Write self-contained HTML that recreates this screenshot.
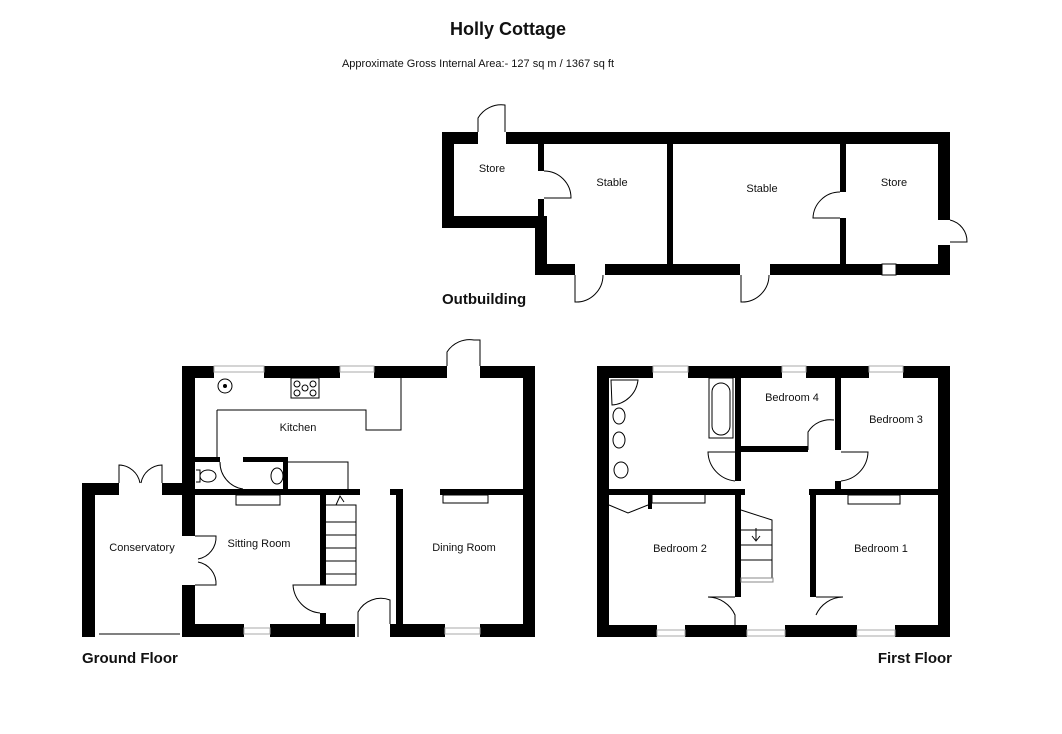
<!DOCTYPE html>
<html><head><meta charset="utf-8"><style>
html,body{margin:0;padding:0;background:#fff;}
svg{display:block;}
text{font-family:"Liberation Sans",Arial,sans-serif;fill:#111;}
</style></head><body>
<svg width="1062" height="734" viewBox="0 0 1062 734" xmlns="http://www.w3.org/2000/svg">
<rect width="1062" height="734" fill="#fff"/>
<text x="508" y="35" font-size="18" font-weight="bold" text-anchor="middle">Holly Cottage</text>
<text x="478" y="67" font-size="11" text-anchor="middle">Approximate Gross Internal Area:- 127 sq m / 1367 sq ft</text>

<!-- ===== OUTBUILDING ===== -->
<g fill="#000">
<rect x="442" y="132" width="36" height="12"/>
<rect x="506" y="132" width="444" height="12"/>
<rect x="442" y="132" width="12" height="96"/>
<rect x="442" y="216" width="102" height="12"/>
<rect x="535" y="216" width="12" height="59"/>
<rect x="535" y="264" width="40" height="11"/>
<rect x="605" y="264" width="135" height="11"/>
<rect x="770" y="264" width="180" height="11"/>
<rect x="938" y="132" width="12" height="88"/>
<rect x="938" y="245" width="12" height="30"/>
<rect x="538" y="144" width="6" height="27"/>
<rect x="538" y="199" width="6" height="20"/>
<rect x="667" y="144" width="6" height="120"/>
<rect x="840" y="144" width="6" height="48"/>
<rect x="840" y="218" width="6" height="46"/>
</g>
<g fill="none" stroke="#000" stroke-width="1">
<path d="M478 132 L478 118 A27 27 0 0 1 505 105 L505 132"/>
<path d="M544 171 A27 27 0 0 1 571 198 L544 198"/>
<path d="M575 275 L575 302 A27 27 0 0 0 603 275"/>
<path d="M741 275 L741 302 A27 27 0 0 0 769 275"/>
<path d="M840 192 A27 27 0 0 0 813 218 L840 218"/>
<path d="M950 220 A22 22 0 0 1 967 242 L950 242"/>
<rect x="882" y="264" width="14" height="11" fill="#fff"/>
</g>
<text x="492" y="172" font-size="11" text-anchor="middle">Store</text>
<text x="612" y="186" font-size="11" text-anchor="middle">Stable</text>
<text x="762" y="192" font-size="11" text-anchor="middle">Stable</text>
<text x="894" y="186" font-size="11" text-anchor="middle">Store</text>
<text x="442" y="304" font-size="15" font-weight="bold">Outbuilding</text>

<!-- ===== GROUND FLOOR ===== -->
<g fill="#000">
<rect x="182" y="366" width="32" height="12"/>
<rect x="264" y="366" width="76" height="12"/>
<rect x="374" y="366" width="73" height="12"/>
<rect x="480" y="366" width="55" height="12"/>
<rect x="523" y="366" width="12" height="271"/>
<rect x="182" y="366" width="13" height="170"/>
<rect x="182" y="585" width="13" height="52"/>
<rect x="82" y="483" width="13" height="154"/>
<rect x="82" y="483" width="37" height="12"/>
<rect x="162" y="483" width="33" height="12"/>
<rect x="182" y="624" width="62" height="13"/>
<rect x="270" y="624" width="85" height="13"/>
<rect x="390" y="624" width="55" height="13"/>
<rect x="480" y="624" width="55" height="13"/>
<rect x="182" y="489" width="178" height="6"/>
<rect x="390" y="489" width="13" height="6"/>
<rect x="440" y="489" width="95" height="6"/>
<rect x="396" y="489" width="7" height="148"/>
<rect x="320" y="495" width="6" height="90"/>
<rect x="320" y="613" width="6" height="20"/>
<rect x="195" y="457" width="25" height="5"/>
<rect x="243" y="457" width="45" height="5"/>
<rect x="283" y="457" width="5" height="33"/>
</g>
<g fill="none" stroke="#000" stroke-width="1">
<rect x="214" y="366" width="50" height="6" fill="#fff" stroke="#aaa"/>
<rect x="340" y="366" width="34" height="6" fill="#fff" stroke="#aaa"/>
<rect x="244" y="628" width="26" height="6" fill="#fff" stroke="#aaa"/>
<rect x="445" y="628" width="35" height="6" fill="#fff" stroke="#aaa"/>
<path d="M99 634 L180 634"/>
<path d="M217 410 L366 410 L366 430 L401 430 L401 378"/>
<path d="M217 410 L217 457"/>
<path d="M288 462 L348 462 L348 489"/>
<circle cx="225" cy="386" r="7"/><circle cx="225" cy="386" r="1.5" fill="#000"/>
<rect x="291" y="378" width="28" height="20"/>
<circle cx="297" cy="384" r="3"/><circle cx="313" cy="384" r="3"/><circle cx="305" cy="388" r="3"/><circle cx="297" cy="393" r="3"/><circle cx="313" cy="393" r="3"/>
<ellipse cx="208" cy="476" rx="8" ry="6"/><path d="M196 470 L200 470 L200 482 L196 482"/>
<ellipse cx="277" cy="476" rx="6" ry="8"/>
<path d="M220 462 A27 27 0 0 0 243 489"/>
<path d="M447 366 L447 352 A27 27 0 0 1 474 340 L480 340 L480 366"/>
<path d="M119 483 L119 465 A22 22 0 0 1 140 483"/>
<path d="M162 483 L162 465 A22 22 0 0 0 141 483"/>
<path d="M195 536 L216 536 A22 22 0 0 1 198 559"/>
<path d="M195 585 L216 585 A22 22 0 0 0 198 562"/>
<path d="M326 585 L293 585 A30 30 0 0 0 320 613"/>
<path d="M358 637 L358 612 A26 26 0 0 1 390 600 L390 624"/>
<path d="M326 505 L356 505 L356 585 L326 585"/>
<path d="M326 522 L356 522 M326 535 L356 535 M326 548 L356 548 M326 561 L356 561 M326 574 L356 574"/>
<path d="M336 505 L340 496 L344 502"/>
<rect x="236" y="495" width="44" height="10"/>
<rect x="443" y="495" width="45" height="8"/>
</g>
<text x="298" y="431" font-size="11" text-anchor="middle">Kitchen</text>
<text x="142" y="551" font-size="11" text-anchor="middle">Conservatory</text>
<text x="259" y="547" font-size="11" text-anchor="middle">Sitting Room</text>
<text x="464" y="551" font-size="11" text-anchor="middle">Dining Room</text>
<text x="82" y="663" font-size="15" font-weight="bold">Ground Floor</text>

<!-- ===== FIRST FLOOR ===== -->
<g fill="#000">
<rect x="597" y="366" width="56" height="12"/>
<rect x="688" y="366" width="94" height="12"/>
<rect x="806" y="366" width="63" height="12"/>
<rect x="903" y="366" width="47" height="12"/>
<rect x="597" y="366" width="12" height="271"/>
<rect x="938" y="366" width="12" height="271"/>
<rect x="597" y="625" width="60" height="12"/>
<rect x="685" y="625" width="62" height="12"/>
<rect x="785" y="625" width="72" height="12"/>
<rect x="895" y="625" width="55" height="12"/>
<rect x="597" y="489" width="148" height="6"/>
<rect x="809" y="489" width="141" height="6"/>
<rect x="735" y="378" width="6" height="103"/>
<rect x="741" y="446" width="67" height="6"/>
<rect x="835" y="378" width="6" height="72"/>
<rect x="835" y="481" width="6" height="10"/>
<rect x="735" y="489" width="6" height="108"/>
<rect x="810" y="489" width="6" height="108"/>
<rect x="648" y="495" width="4" height="14"/>
</g>
<g fill="none" stroke="#000" stroke-width="1">
<rect x="653" y="366" width="35" height="6" fill="#fff" stroke="#aaa"/>
<rect x="782" y="366" width="24" height="6" fill="#fff" stroke="#aaa"/>
<rect x="869" y="366" width="34" height="6" fill="#fff" stroke="#aaa"/>
<rect x="657" y="630" width="28" height="6" fill="#fff" stroke="#aaa"/>
<rect x="747" y="630" width="38" height="6" fill="#fff" stroke="#aaa"/>
<rect x="857" y="630" width="38" height="6" fill="#fff" stroke="#aaa"/>
<path d="M611 380 L638 380 A28 28 0 0 1 612 405 Z"/>
<ellipse cx="619" cy="416" rx="6" ry="8"/><ellipse cx="619" cy="440" rx="6" ry="8"/>
<ellipse cx="621" cy="470" rx="7" ry="8"/>
<rect x="709" y="378" width="24" height="60"/><rect x="712" y="383" width="18" height="52" rx="9"/>
<path d="M735 452 L708 452 A30 30 0 0 0 735 481"/>
<path d="M841 452 L868 452 A30 30 0 0 1 841 481"/>
<path d="M808 450 L808 432 A26 26 0 0 1 834 420"/>
<path d="M735 597 L708 597 A30 30 0 0 1 735 615 L735 625"/>
<path d="M816 597 L843 597 A30 30 0 0 0 816 615"/>
<path d="M609 505 L628 513 L648 505"/>
<path d="M652 495 L652 503 L705 503 L705 495"/>
<rect x="848" y="495" width="52" height="9"/>
<path d="M741 510 L772 520 L772 578 L741 578"/>
<path d="M741 530 L772 530 M741 545 L772 545 M741 560 L772 560"/>
<path d="M756 528 L756 540 M752 536 L756 541 L760 536"/>
<rect x="741" y="578" width="32" height="4" stroke="#888"/>
</g>
<text x="792" y="401" font-size="11" text-anchor="middle">Bedroom 4</text>
<text x="896" y="423" font-size="11" text-anchor="middle">Bedroom 3</text>
<text x="680" y="552" font-size="11" text-anchor="middle">Bedroom 2</text>
<text x="881" y="552" font-size="11" text-anchor="middle">Bedroom 1</text>
<text x="952" y="663" font-size="15" font-weight="bold" text-anchor="end">First Floor</text>
</svg>
</body></html>
